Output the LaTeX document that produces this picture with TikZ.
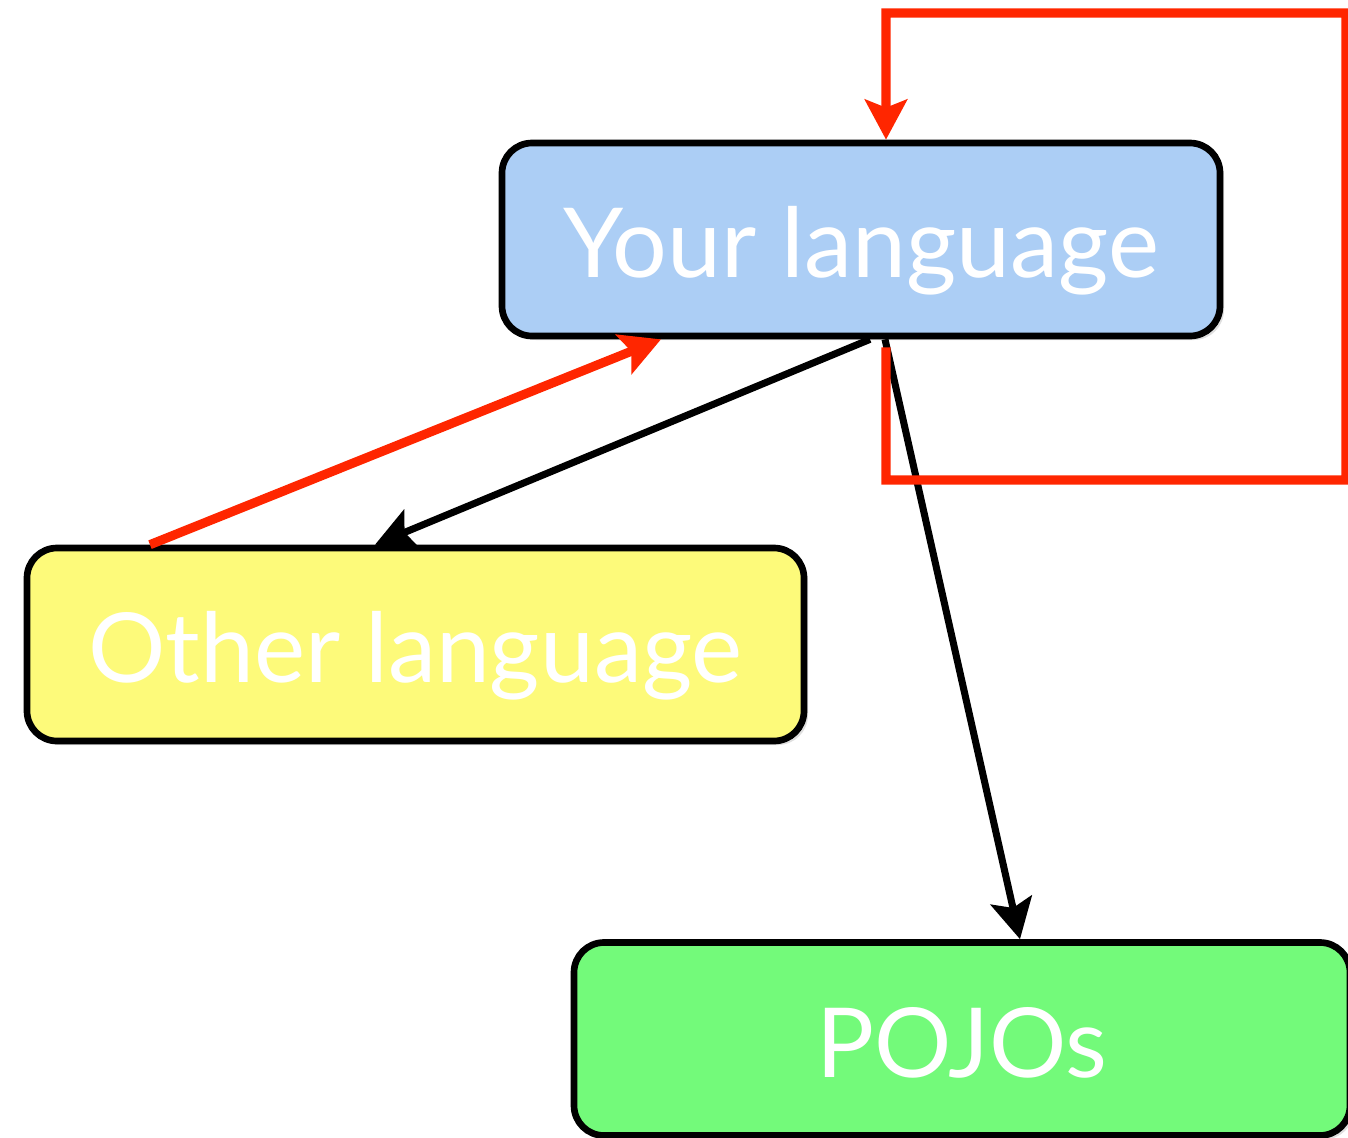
\documentclass[tikz,border=0pt]{standalone}
\usepackage{fontspec}
\setmainfont{Lato}
\usepackage{tikz}
\usetikzlibrary{arrows.meta,shadows}
\newcommand\boxtext[1]{\textcolor{white}{#1}}
\definecolor{node_blue}{RGB}{172,206,245}
\definecolor{node_yell}{RGB}{253,250,122}
\definecolor{node_green}{RGB}{115,250,122}
\definecolor{edge_red}{RGB}{255,38,0}

\begin{document}
\begin{tikzpicture}[->,>={Stealth[length=0.4cm,width=0.42cm,inset=0.08cm]},line join=miter]
    \tikzstyle{lang}=[draw=black, line width=1.9pt, rounded corners=0.3cm, minimum height=1.93cm,
                      text=white, font=\fontsize{27.5}{33}\selectfont, text height=1.0cm, text depth=0.24cm,
                      drop shadow={opacity=0.25,shadow xshift=0.04cm,shadow yshift=-0.04cm}]
    \tikzstyle{langyour}=[style=lang,fill=node_blue,minimum width=7.18cm]
    \tikzstyle{langother}=[style=lang,fill=node_yell,minimum width=7.77cm]
    \tikzstyle{langpojo}=[style=lang,fill=node_green,minimum width=7.76cm]
    \tikzstyle{redline}=[edge_red,line width=2.6pt]
    \tikzstyle{blackline}=[black,line width=2pt]

    \useasboundingbox (0,0) rectangle (13.48,-11.37);

    \node[langyour]  (your)  at (8.61,-2.395)  {\boxtext{Your language}};
    \node[langother] (other) at (4.155,-6.445) {\boxtext{Other language}};
    \node[langpojo]  (pojo)  at (9.62,-10.39)  {\boxtext{POJOs}};

    \path
     ([xshift=-2.655cm]other.north) edge[redline] ([xshift=-2.0cm]your.south)
     ([xshift=0.09cm]your.south) edge[blackline] ([xshift=-0.405cm]other.north)
     ([xshift=0.24cm]your.south) edge[blackline] ([xshift=0.58cm]pojo.north);

    \draw[redline] ([xshift=0.25cm,yshift=-0.08cm]your.south) |- (13.46,-4.80)
                   |- (8.86,-0.13) -- ([xshift=0.25cm]your.north);
\end{tikzpicture}
\end{document}
